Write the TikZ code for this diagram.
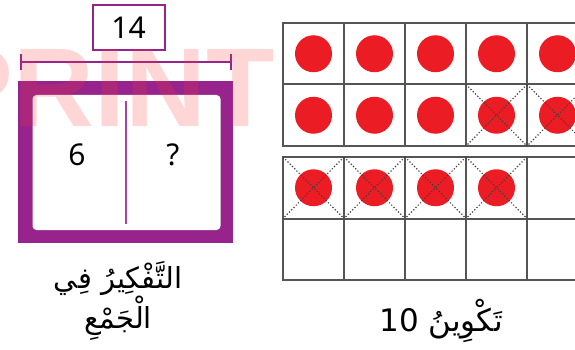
\documentclass[tikz,border=0pt]{standalone}
\usepackage{fontspec}
\setmainfont{Noto Sans}
\newfontfamily\arabicfont[Script=Arabic]{DejaVu Sans}
\newfontfamily\markfont{Liberation Sans}
\TeXXeTstate=1
\usetikzlibrary{arrows.meta,positioning}
\definecolor{framepurple}{RGB}{150,36,140}
\definecolor{dotred}{RGB}{236,28,36}
\definecolor{gridgray}{RGB}{85,85,85}

\begin{document}
\begin{tikzpicture}[x=1pt, y=-1pt,
  cell/.style={draw=gridgray, line width=2pt, minimum width=61pt,
    minimum height=61.5pt, inner sep=0pt, outer sep=0pt},
  counter/.style={circle, fill=dotred, minimum size=37pt, inner sep=0pt},
  crossout/.style={dotted, line width=1.2pt, black!75},
  num/.style={font=\fontsize{30}{30}\selectfont, inner sep=0pt},
  arlabel/.style={font=\arabicfont\fontsize{29}{40}\selectfont, align=center},
]
  \useasboundingbox (0,0) rectangle (575,350);
  \clip (0,0) rectangle (575,350);

  % Bar model: whole and two parts
  \node[draw=framepurple, line width=2pt, minimum width=72pt,
    minimum height=45pt, num] (total) at (128.5,27.5) {14};
  \coordinate (barL) at (20,62);
  \coordinate (barR) at (232,62);
  \draw[framepurple, line width=2pt, {Bar[width=16pt]}-{Bar[width=16pt]}]
    (barL) -- (barR);
  \node[fill=framepurple, minimum width=215pt, minimum height=162pt,
    inner sep=0pt] (whole) at (125.5,162) {};
  \node[fill=white, rounded corners=4pt, minimum width=188pt,
    minimum height=135pt, inner sep=0pt] (inner) at (126.5,162.5) {};
  \coordinate (divtop) at (126,101);
  \coordinate (divbot) at (126,224);
  \draw[framepurple!85, line width=2.5pt] (divtop) -- (divbot);
  \node[num] (partA) at (77,155) {6};
  \node[num] (partB) at (173,155) {?};
  \node[arlabel] (barlabel) at (118,301)
    {\beginR التَّفْكِيرُ فِي\endR\\\beginR الْجَمْعِ\endR};

  % Two ten-frames
  \foreach \f/\y in {1/53.75, 2/187.75}{
    \foreach \r in {1,2}{
      \foreach \c in {1,...,5}{
        \node[cell] (c\f-\r-\c) at (252.5+\c*61, \y+\r*61.5-61.5) {};
      }
    }
  }
  % Counters
  \foreach \r in {1,2}{
    \foreach \c in {1,...,5}{
      \node[counter] at (c1-\r-\c) {};
    }
  }
  \foreach \c in {1,...,4}{
    \node[counter] at (c2-1-\c) {};
  }
  % Counters taken away
  \foreach \cc in {c1-2-4, c1-2-5, c2-1-1, c2-1-2, c2-1-3, c2-1-4}{
    \draw[crossout] (\cc.north west) -- (\cc.south east);
    \draw[crossout] (\cc.north east) -- (\cc.south west);
  }
  \node[arlabel, font=\arabicfont\fontsize{31}{40}\selectfont] (framelabel)
    at (441,321) {\beginR تَكْوِينُ \beginL10\endL\endR};

  % Watermark
  \node[font=\markfont\bfseries\fontsize{112}{112}\selectfont, text=red!80,
    opacity=0.2, anchor=base, inner sep=0pt] (watermark) at (107,127) {PRINT};
\end{tikzpicture}
\end{document}
